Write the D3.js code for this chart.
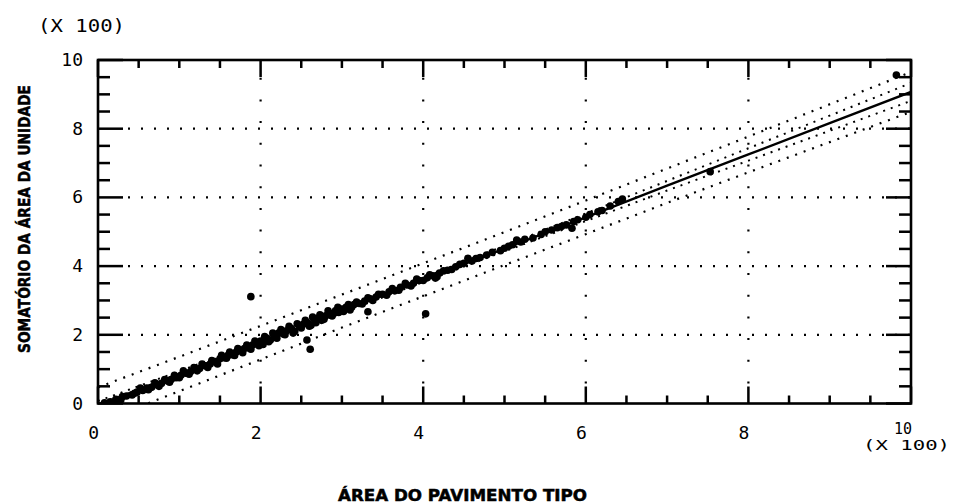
<!DOCTYPE html>
<html>
<head>
<meta charset="utf-8">
<script src="https://cdn.jsdelivr.net/npm/d3@7"></script>
<style>
  html, body { margin: 0; padding: 0; background: #fff; }
  svg { display: block; }
  .tick-label { font-family: "DejaVu Sans Mono", monospace; font-size: 18px; fill: #000; }
  .title { font-family: "DejaVu Sans", sans-serif; font-weight: bold; font-size: 15px; fill: #000; stroke: #000; stroke-width: 0.5; }
</style>
</head>
<body>
<svg id="chart" width="953" height="504"></svg>
<script>
// Observations: floor-plan area (x) vs. sum of unit areas (y), both in hundreds
const areaPavimento = [
  0.08,0.15,0.22,0.28,0.35,0.42,0.48,0.55,0.60,0.66,0.72,0.78,0.85,0.90,0.96,
  1.02,1.08,1.14,1.20,1.25,1.32,1.38,1.44,1.50,1.55,1.60,1.65,1.70,1.75,1.80,
  1.85,1.90,1.95,2.00,2.03,2.08,2.12,2.18,2.22,2.28,2.32,2.38,2.42,2.48,2.52,
  2.58,2.62,2.66,2.70,2.75,2.80,2.85,2.88,2.92,2.96,3.00,3.05,3.10,3.15,3.20,
  3.28,3.35,3.42,3.50,3.58,3.65,3.72,3.80,3.88,3.95,4.05,4.12,4.20,4.30,4.40,
  4.50,4.55,4.60,4.70,4.85,5.00,5.10,5.15,5.20,5.35,5.50,5.65,5.76,5.90,6.05,
  6.20,6.30,6.40,
  0.30,0.45,0.52,0.62,0.70,0.75,0.82,0.88,0.94,1.00,1.05,1.12,1.18,1.22,1.28,
  1.35,1.40,1.47,1.52,1.58,1.62,1.68,1.72,1.78,1.83,1.88,1.93,1.98,2.05,2.10,
  2.15,2.20,2.25,2.30,2.35,2.40,2.45,2.50,2.55,2.60,2.64,2.68,2.73,2.78,2.83,
  2.90,2.95,3.02,3.08,3.12,3.18,3.25,3.32,3.38,3.45,3.55,3.62,3.70,3.78,3.85,
  3.92,4.00,4.08,4.15,4.25,4.35,4.45,4.65,4.78,4.95,5.05,5.25,5.45,5.58,5.70,
  5.85,6.00,6.15,6.45,
  1.88,2.57,2.61,3.32,4.03,4.17,5.83,7.53,9.82
];
const somatorioUnidade = [
  0.02,0.05,0.12,0.10,0.22,0.25,0.33,0.38,0.45,0.47,0.55,0.58,0.66,0.70,0.75,
  0.82,0.88,0.93,1.00,1.02,1.10,1.15,1.22,1.30,1.33,1.40,1.42,1.50,1.55,1.60,
  1.62,1.70,1.75,1.82,1.72,1.90,1.85,1.98,2.05,2.02,2.12,2.18,2.10,2.25,2.30,
  2.35,2.28,2.45,2.48,2.42,2.55,2.62,2.55,2.70,2.65,2.75,2.80,2.72,2.88,2.92,
  2.98,3.05,3.10,3.18,3.25,3.28,3.38,3.45,3.50,3.58,3.66,3.72,3.80,3.88,3.98,
  4.08,4.23,4.15,4.25,4.40,4.52,4.62,4.76,4.70,4.82,5.00,5.12,5.20,5.35,5.50,
  5.62,5.75,5.88,
  0.20,0.30,0.45,0.40,0.60,0.50,0.70,0.62,0.82,0.75,0.95,0.85,1.05,0.95,1.15,
  1.05,1.25,1.15,1.40,1.32,1.50,1.40,1.60,1.48,1.70,1.58,1.82,1.68,1.95,1.80,
  2.05,1.90,2.15,2.00,2.25,2.05,2.32,2.20,2.42,2.25,2.52,2.35,2.58,2.45,2.70,
  2.62,2.80,2.68,2.88,2.80,2.95,2.90,3.08,3.00,3.18,3.15,3.35,3.30,3.50,3.42,
  3.62,3.58,3.75,3.65,3.86,3.90,4.05,4.22,4.32,4.45,4.58,4.78,4.92,5.05,5.15,
  5.30,5.42,5.58,5.95,
  3.11,1.85,1.58,2.67,2.61,3.69,5.10,6.75,9.56
];

// Fitted line with confidence and prediction limits
const bandX      = [0, 1, 2, 3, 4, 5, 6, 7, 8, 9, 10];
const fitY       = [-0.05,0.86,1.77,2.69,3.60,4.51,5.42,6.34,7.25,8.16,9.07];
const predUpper  = [0.47,1.36,2.26,3.17,4.08,4.99,5.91,6.84,7.77,8.71,9.65];
const predLower  = [-0.57,0.36,1.28,2.21,3.12,4.03,4.93,5.84,6.73,7.61,8.49];
const confUpper  = [0.07,0.94,1.82,2.74,3.66,4.59,5.53,6.48,7.43,8.38,9.33];
const confLower  = [-0.17,0.78,1.72,2.64,3.54,4.43,5.31,6.20,7.07,7.94,8.81];

// Axis ticks
const majorTicks = [0, 2, 4, 6, 8, 10];
const majorLabels = ["0", "2", "4", "6", "8", "10"];
const minorTicks = [0.5, 1, 1.5, 2.5, 3, 3.5, 4.5, 5, 5.5, 6.5, 7, 7.5, 8.5, 9, 9.5];
const gridTicks = [2, 4, 6, 8];

const xTitle = "ÁREA DO PAVIMENTO TIPO";
const yTitle = "SOMATÓRIO DA ÁREA DA UNIDADE";
const scaleNote = "(X 100)";

const svg = d3.select("#chart");
const L = 98, R = 911, T = 60, B = 403.5;

const xScale = d3.scaleLinear().domain([0, 10]).range([L, R]);
const yScale = d3.scaleLinear().domain([0, 10]).range([B, T]);

svg.append("defs").append("clipPath").attr("id", "plotClip")
  .append("rect").attr("x", L).attr("y", T).attr("width", R - L).attr("height", B - T);

// Dotted grid
const grid = svg.append("g");
grid.selectAll(".gh").data(gridTicks).join("line").attr("class", "gh")
  .attr("x1", L + 30).attr("x2", R)
  .attr("y1", d => yScale(d)).attr("y2", d => yScale(d))
  .attr("stroke", "#000").attr("stroke-width", 2.2)
  .attr("stroke-dasharray", "2,11");
grid.selectAll(".gv").data(gridTicks).join("line").attr("class", "gv")
  .attr("y1", B - 20).attr("y2", T)
  .attr("x1", d => xScale(d)).attr("x2", d => xScale(d))
  .attr("stroke", "#000").attr("stroke-width", 2.2)
  .attr("stroke-dasharray", "2,19.7");

// Frame
svg.append("rect").attr("x", L).attr("y", T).attr("width", R - L).attr("height", B - T)
  .attr("fill", "none").attr("stroke", "#000").attr("stroke-width", 2.6);

// Inward tick marks on all four sides
const tickSpecs = [];
minorTicks.forEach(v => tickSpecs.push({v, lx: 8, ly: 12}));
majorTicks.forEach(v => tickSpecs.push({v, lx: 17, ly: 25}));
const tickG = svg.append("g").attr("fill", "#000");
tickG.selectAll(".tb").data(tickSpecs).join("rect").attr("class", "tb")
  .attr("x", d => xScale(d.v) - 1.25).attr("width", 2.5)
  .attr("y", d => B - d.lx).attr("height", d => d.lx);
tickG.selectAll(".tt").data(tickSpecs).join("rect").attr("class", "tt")
  .attr("x", d => xScale(d.v) - 1.25).attr("width", 2.5)
  .attr("y", T).attr("height", d => d.lx);
tickG.selectAll(".tl").data(tickSpecs).join("rect").attr("class", "tl")
  .attr("y", d => yScale(d.v) - 1.25).attr("height", 2.5)
  .attr("x", L).attr("width", d => d.ly);
tickG.selectAll(".tr").data(tickSpecs).join("rect").attr("class", "tr")
  .attr("y", d => yScale(d.v) - 1.25).attr("height", 2.5)
  .attr("x", d => R - d.ly).attr("width", d => d.ly);

// Bands and fitted line
const plot = svg.append("g").attr("clip-path", "url(#plotClip)");
const lineOf = arr => d3.line().x((d, i) => xScale(bandX[i])).y(d => yScale(d))(arr);
[predUpper, predLower].forEach(arr => plot.append("path").attr("d", lineOf(arr))
  .attr("fill", "none").attr("stroke", "#000").attr("stroke-width", 2.2)
  .attr("stroke-dasharray", "2,7"));
[confUpper, confLower].forEach(arr => plot.append("path").attr("d", lineOf(arr))
  .attr("fill", "none").attr("stroke", "#000").attr("stroke-width", 2)
  .attr("stroke-dasharray", "2,6"));
plot.append("path").attr("d", lineOf(fitY))
  .attr("fill", "none").attr("stroke", "#000").attr("stroke-width", 2.4);

// Observations
plot.selectAll("circle").data(areaPavimento).join("circle")
  .attr("cx", d => xScale(d))
  .attr("cy", (d, i) => yScale(somatorioUnidade[i]))
  .attr("r", 3.8).attr("fill", "#000");

// Tick labels
svg.selectAll(".xl").data(majorTicks).join("text")
  .attr("class", "xl tick-label")
  .attr("x", d => xScale(d) + 1)
  .attr("y", d => d === 10 ? 434 : 439)
  .attr("text-anchor", "end")
  .style("font-size", d => d === 10 ? "15px" : null)
  .text((d, i) => majorLabels[i]);
svg.selectAll(".yl").data(majorTicks).join("text")
  .attr("class", "yl tick-label")
  .attr("x", 83)
  .attr("y", d => yScale(d) + 6)
  .attr("text-anchor", "end")
  .text((d, i) => majorLabels[i]);

svg.append("text").attr("class", "tick-label")
  .attr("x", 38).attr("y", 32).attr("textLength", 87).attr("lengthAdjust", "spacingAndGlyphs")
  .text(scaleNote);
svg.append("text").attr("class", "tick-label")
  .style("font-size", "14px")
  .attr("x", 863).attr("y", 450).attr("textLength", 87).attr("lengthAdjust", "spacingAndGlyphs")
  .text(scaleNote);

// Axis titles
svg.append("text").attr("class", "title")
  .attr("x", 338).attr("y", 501)
  .attr("textLength", 249).attr("lengthAdjust", "spacingAndGlyphs")
  .text(xTitle);
svg.append("text").attr("class", "title")
  .style("font-size", "16px")
  .attr("transform", "translate(30,353) rotate(-90)")
  .attr("x", 0).attr("y", 0)
  .attr("textLength", 268).attr("lengthAdjust", "spacingAndGlyphs")
  .text(yTitle);
</script>
</body>
</html>
